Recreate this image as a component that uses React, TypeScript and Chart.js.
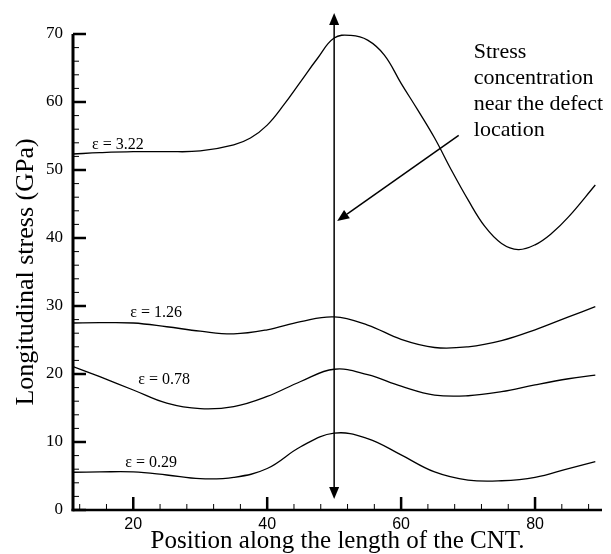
import React, { useEffect, useRef } from "react";
import { Chart, registerables } from "chart.js";

Chart.register(...registerables);

// ---- Data ----
const X_322 = [11, 15, 20, 25, 30, 35, 37.5, 40, 42.5, 45, 47.5, 50, 52.5, 55, 57.5, 60, 62.5, 65, 67.5, 70, 72.5, 75, 77.5, 80, 82.5, 85, 89];
const Y_322 = [52.35, 52.55, 52.7, 52.7, 52.8, 53.7, 54.7, 56.6, 59.6, 63.0, 66.4, 69.4, 69.8, 69.1, 66.9, 62.75, 58.8, 54.7, 50.0, 45.6, 41.7, 39.2, 38.3, 39.0, 40.7, 43.1, 47.8];

const X_126 = [11, 15, 20, 25, 30, 35, 40, 45, 50, 55, 60, 65, 70, 75, 80, 85, 89];
const Y_126 = [27.5, 27.55, 27.5, 26.95, 26.3, 25.9, 26.5, 27.7, 28.4, 27.2, 25.1, 23.9, 24.0, 24.9, 26.5, 28.4, 29.9];

const X_078 = [11, 15, 20, 25, 30, 35, 40, 45, 50, 55, 60, 65, 70, 75, 80, 85, 89];
const Y_078 = [21.1, 19.6, 17.65, 15.7, 14.9, 15.2, 16.7, 18.9, 20.7, 19.9, 18.2, 16.9, 16.8, 17.4, 18.4, 19.3, 19.85];

const X_029 = [11, 15, 20, 25, 30, 35, 40, 45, 50, 55, 60, 65, 70, 75, 80, 85, 89];
const Y_029 = [5.55, 5.6, 5.6, 5.15, 4.6, 4.8, 6.1, 9.3, 11.3, 10.5, 8.1, 5.6, 4.4, 4.3, 4.8, 6.1, 7.1];

const SERIES_LABELS = ["ε = 3.22", "ε = 1.26", "ε = 0.78", "ε = 0.29"];
const LABEL_X = [13.85, 19.55, 20.75, 18.8];
const LABEL_Y = [53.1, 28.4, 18.5, 6.3];

const X_MIN = 11;
const X_MAX = 90;
const Y_MIN = 0;
const Y_MAX = 70;
const X_TICKS = [20, 40, 60, 80];
const Y_TICKS = [0, 10, 20, 30, 40, 50, 60, 70];
const X_MINOR_STEP = 4;
const Y_MINOR_STEP = 2;

const DEFECT_X = 50;
const DEFECT_Y_FROM = 1.6;
const DEFECT_Y_TO = 73.1;

const NOTE_LINES = ["Stress", "concentration", "near the defect", "location"];
const NOTE_X = 70.85;
const NOTE_Y = [66.5, 62.7, 58.85, 55.0];
const NOTE_ARROW_FROM = [68.6, 55.1];
const NOTE_ARROW_TO = [50.45, 42.5];

const X_TITLE = "Position along the length of the CNT.";
const Y_TITLE = "Longitudinal stress (GPa)";

function pts(xs: number[], ys: number[]) {
  return xs.map((x, i) => ({ x, y: ys[i] }));
}

function drawArrow(ctx: CanvasRenderingContext2D, x1: number, y1: number, x2: number, y2: number, head = 12, half = 4.5) {
  const ang = Math.atan2(y2 - y1, x2 - x1);
  const c = Math.cos(ang), s = Math.sin(ang);
  const bx = x2 - head * c, by = y2 - head * s;
  ctx.beginPath();
  ctx.moveTo(x1, y1);
  ctx.lineTo(bx, by);
  ctx.stroke();
  ctx.beginPath();
  ctx.moveTo(x2, y2);
  ctx.lineTo(bx + half * s, by - half * c);
  ctx.lineTo(bx - half * s, by + half * c);
  ctx.closePath();
  ctx.fill();
}

const overlayPlugin = {
  id: "overlay",
  afterDraw(chart: any) {
    const { ctx, chartArea: ca } = chart;
    const xs = chart.scales.x;
    const ys = chart.scales.y;
    ctx.save();
    ctx.strokeStyle = "#000";
    ctx.fillStyle = "#000";
    ctx.lineCap = "butt";

    // axes lines
    ctx.lineWidth = 3;
    ctx.beginPath();
    ctx.moveTo(ca.left, ca.top);
    ctx.lineTo(ca.left, ca.bottom + 1.25);
    ctx.stroke();
    ctx.lineWidth = 2.5;
    ctx.beginPath();
    ctx.moveTo(ca.left - 1.5, ca.bottom);
    ctx.lineTo(ca.right, ca.bottom);
    ctx.stroke();

    // y ticks (inward)
    for (let v = Y_MIN; v <= Y_MAX + 1e-9; v += Y_MINOR_STEP) {
      const major = Y_TICKS.some((t) => Math.abs(t - v) < 1e-9);
      const py = ys.getPixelForValue(v);
      ctx.lineWidth = major ? 2.5 : 1;
      ctx.beginPath();
      ctx.moveTo(ca.left, py);
      ctx.lineTo(ca.left + (major ? 13 : 6), py);
      ctx.stroke();
    }
    // x ticks (inward)
    for (let v = Math.ceil(X_MIN / X_MINOR_STEP) * X_MINOR_STEP; v <= X_MAX + 1e-9; v += X_MINOR_STEP) {
      const major = X_TICKS.some((t) => Math.abs(t - v) < 1e-9);
      const px = xs.getPixelForValue(v);
      ctx.lineWidth = major ? 2.5 : 1;
      ctx.beginPath();
      ctx.moveTo(px, ca.bottom);
      ctx.lineTo(px, ca.bottom - (major ? 13 : 6));
      ctx.stroke();
    }

    // vertical double arrow at the defect
    ctx.lineWidth = 1.5;
    const dx = xs.getPixelForValue(DEFECT_X);
    const dyTop = ys.getPixelForValue(DEFECT_Y_TO);
    const dyBot = ys.getPixelForValue(DEFECT_Y_FROM);
    const dMid = (dyTop + dyBot) / 2;
    drawArrow(ctx, dx, dMid, dx, dyTop, 12, 5);
    drawArrow(ctx, dx, dMid, dx, dyBot, 12, 5);

    // annotation arrow
    ctx.lineWidth = 1.5;
    drawArrow(
      ctx,
      xs.getPixelForValue(NOTE_ARROW_FROM[0]),
      ys.getPixelForValue(NOTE_ARROW_FROM[1]),
      xs.getPixelForValue(NOTE_ARROW_TO[0]),
      ys.getPixelForValue(NOTE_ARROW_TO[1]),
      12,
      5
    );

    // series labels
    ctx.font = "16px 'Liberation Serif'";
    ctx.textAlign = "left";
    ctx.textBaseline = "alphabetic";
    SERIES_LABELS.forEach((t, i) => {
      ctx.fillText(t, xs.getPixelForValue(LABEL_X[i]), ys.getPixelForValue(LABEL_Y[i]));
    });

    // annotation text
    ctx.font = "22px 'Liberation Serif'";
    NOTE_LINES.forEach((t, i) => {
      ctx.fillText(t, xs.getPixelForValue(NOTE_X), ys.getPixelForValue(NOTE_Y[i]));
    });

    ctx.restore();
  },
};

export default function App() {
  const ref = useRef<HTMLCanvasElement | null>(null);

  useEffect(() => {
    document.body.style.margin = "0";
    const canvas = ref.current;
    if (!canvas) return;
    const lineStyle = {
      borderColor: "#000",
      borderWidth: 1.3,
      pointRadius: 0,
      fill: false,
      tension: 0.4,
    };
    const chart = new Chart(canvas, {
      type: "line",
      data: {
        datasets: [
          { label: SERIES_LABELS[0], data: pts(X_322, Y_322), ...lineStyle },
          { label: SERIES_LABELS[1], data: pts(X_126, Y_126), ...lineStyle },
          { label: SERIES_LABELS[2], data: pts(X_078, Y_078), ...lineStyle },
          { label: SERIES_LABELS[3], data: pts(X_029, Y_029), ...lineStyle },
        ],
      },
      options: {
        responsive: false,
        animation: false,
        devicePixelRatio: 1,
        layout: { padding: { left: 0, right: 9, top: 34, bottom: 0 } },
        plugins: { legend: { display: false }, tooltip: { enabled: false } },
        scales: {
          x: {
            type: "linear",
            min: X_MIN,
            max: X_MAX,
            grid: { display: false, drawTicks: false },
            border: { display: false },
            afterBuildTicks: (s: any) => {
              s.ticks = X_TICKS.map((v) => ({ value: v }));
            },
            afterFit: (s: any) => {
              s.height = 44;
            },
            ticks: {
              padding: 5,
              color: "#000",
              maxRotation: 0,
              autoSkip: false,
              font: { family: "'Liberation Sans', Arial, sans-serif", size: 16 },
            },
            title: {
              display: true,
              text: X_TITLE,
              color: "#000",
              font: { family: "'Liberation Serif', 'Times New Roman', serif", size: 25, lineHeight: 1 },
              padding: { top: 0, bottom: 0 },
            },
          },
          y: {
            type: "linear",
            min: Y_MIN,
            max: Y_MAX,
            grid: { display: false, drawTicks: false },
            border: { display: false },
            afterBuildTicks: (s: any) => {
              s.ticks = Y_TICKS.map((v) => ({ value: v }));
            },
            afterFit: (s: any) => {
              s.width = 73;
            },
            ticks: {
              padding: 10,
              color: "#000",
              font: { family: "'Liberation Serif', 'Times New Roman', serif", size: 17 },
            },
            title: {
              display: true,
              text: Y_TITLE,
              color: "#000",
              font: { family: "'Liberation Serif', 'Times New Roman', serif", size: 26, lineHeight: 1 },
              padding: { top: 13, bottom: 0 },
            },
          },
        },
      },
      plugins: [overlayPlugin],
    });
    return () => chart.destroy();
  }, []);

  return (
    <div style={{ width: 611, height: 554, background: "#fff" }}>
      <canvas ref={ref} width={611} height={554} style={{ display: "block", width: 611, height: 554 }} />
    </div>
  );
}
